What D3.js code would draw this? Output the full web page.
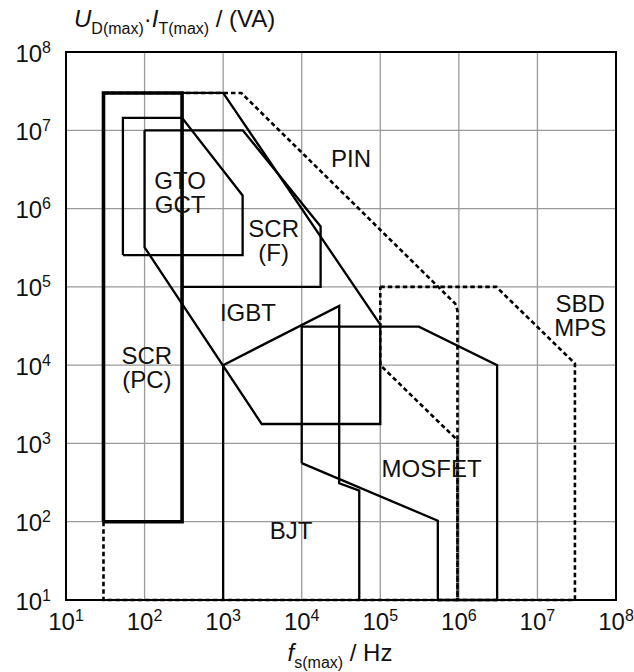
<!DOCTYPE html>
<html>
<head>
<meta charset="utf-8">
<script src="https://cdn.jsdelivr.net/npm/d3@7"></script>
<style>
  body { margin: 0; background: #fff; }
  svg { display: block; font-family: "Liberation Sans", Arial, sans-serif; }
  .grid line { stroke: #9a9a9a; stroke-width: 1.3; }
  .region { fill: none; stroke: #000; stroke-linejoin: miter; }
  .label { font-size: 24px; fill: #111; text-anchor: middle; }
  .tick { font-size: 24px; fill: #111; }
</style>
</head>
<body>
<div id="chart"></div>
<script>
// decade ticks on both axes
const xTicks = [1e1, 1e2, 1e3, 1e4, 1e5, 1e6, 1e7, 1e8];
const yTicks = [1e1, 1e2, 1e3, 1e4, 1e5, 1e6, 1e7, 1e8];

// region outlines: [f_s(max) in Hz, U*I in VA]
const scrPC = [[30, 100], [30, 3e7], [300, 3e7], [300, 100], [30, 100]];
const gtoGct = [[53, 2.55e5], [53, 1.44e7], [300, 1.44e7], [1.77e3, 1.47e6], [1.77e3, 2.55e5], [53, 2.55e5]];
const scrF = [[300, 1e5], [1.74e4, 1e5], [1.74e4, 5.9e5], [1.78e3, 1e7], [100, 1e7]];
const igbt = [[300, 3e7], [1e3, 3e7], [1e5, 3.3e4], [1e5, 1.77e3], [3.1e3, 1.77e3], [100, 3.2e5], [100, 1e7]];
const bjt = [[1e3, 10], [1e3, 1e4], [3e4, 5.7e4], [3e4, 3.1e2], [5.4e4, 2.5e2], [5.4e4, 10]];
const mosfet = [[1e4, 5.6e2], [1e4, 3.1e4], [3.1e5, 3.1e4], [3.07e6, 1e4], [3.07e6, 10], [5.4e5, 10], [5.4e5, 1.03e2], [1e4, 5.6e2]];
const pin = [[30, 3e7], [1.7e3, 3e7], [9e5, 6.1e4], [9.6e5, 5e4], [9.6e5, 10], [30, 10], [30, 3e7]];
const sbdMps = [[1e5, 1e5], [3e6, 1e5], [3e7, 1.05e4], [3e7, 10], [9.6e5, 10], [9.6e5, 1.1e3], [1e5, 1e4], [1e5, 1e5]];

// region names, anchored (first baseline) in data units
const labelText = [["PIN"], ["GTO", "GCT"], ["SCR", "(F)"], ["IGBT"], ["SCR", "(PC)"], ["MOSFET"], ["BJT"], ["SBD", "MPS"]];
const labelAt = [[4.24e4, 3.37e6], [283, 1.76e6], [4.4e3, 4.37e5], [2.07e3, 3.69e4], [107, 1.03e4], [4.5e5, 376], [7.3e3, 59.6], [3.5e7, 4.8e4]];

const width = 634;
const height = 672;

const svg = d3.select("#chart").append("svg")
  .attr("width", width)
  .attr("height", height);

const x = d3.scaleLog().domain([1e1, 1e8]).range([66, 616]);
const y = d3.scaleLog().domain([1e1, 1e8]).range([600, 52]);

// grid
const grid = svg.append("g").attr("class", "grid");
grid.selectAll(".gx")
  .data(xTicks.slice(1, -1))
  .enter()
  .append("line")
  .attr("x1", d => x(d)).attr("x2", d => x(d))
  .attr("y1", y(1e1)).attr("y2", y(1e8));
grid.selectAll(".gy")
  .data(yTicks.slice(1, -1))
  .enter()
  .append("line")
  .attr("y1", d => y(d)).attr("y2", d => y(d))
  .attr("x1", x(1e1)).attr("x2", x(1e8));

const line = d3.line().x(d => x(d[0])).y(d => y(d[1]));

// dashed diode regions first, solid ones over them
svg.selectAll(".dashed")
  .data([pin, sbdMps])
  .enter()
  .append("path")
  .attr("class", "region")
  .attr("d", line)
  .attr("stroke-width", 2.6)
  .attr("stroke-dasharray", "4.5,3");

svg.selectAll(".solid")
  .data([gtoGct, scrF, igbt, bjt, mosfet])
  .enter()
  .append("path")
  .attr("class", "region")
  .attr("d", line)
  .attr("stroke-width", 2.3);

svg.append("path")
  .attr("class", "region")
  .attr("d", line(scrPC))
  .attr("stroke-width", 3.6);

// frame
svg.append("rect")
  .attr("x", x(1e1)).attr("y", y(1e8))
  .attr("width", x(1e8) - x(1e1))
  .attr("height", y(1e1) - y(1e8))
  .attr("fill", "none")
  .attr("stroke", "#000")
  .attr("stroke-width", 2);

// tick labels as 10^n
const xt = svg.append("g").selectAll("text")
  .data(xTicks)
  .enter()
  .append("text")
  .attr("class", "tick")
  .attr("text-anchor", "middle")
  .attr("x", d => x(d))
  .attr("y", 630);
xt.append("tspan").text("10");
xt.append("tspan")
  .attr("dy", -9)
  .attr("font-size", 16)
  .text(d => Math.round(Math.log10(d)));

const yt = svg.append("g").selectAll("text")
  .data(yTicks)
  .enter()
  .append("text")
  .attr("class", "tick")
  .attr("text-anchor", "end")
  .attr("x", 51)
  .attr("y", d => y(d) + 9.5);
yt.append("tspan").text("10");
yt.append("tspan")
  .attr("dy", -9)
  .attr("font-size", 16)
  .text(d => Math.round(Math.log10(d)));

// axis titles
const yTitle = svg.append("text")
  .attr("x", 74)
  .attr("y", 27)
  .attr("font-size", 24)
  .attr("fill", "#111");
yTitle.append("tspan").attr("font-style", "italic").text("U");
yTitle.append("tspan").attr("font-size", 16).attr("dy", 7).text("D(max)");
yTitle.append("tspan").attr("dy", -7).text("·");
yTitle.append("tspan").attr("font-style", "italic").text("I");
yTitle.append("tspan").attr("font-size", 16).attr("dy", 7).text("T(max)");
yTitle.append("tspan").attr("dy", -7).text(" / (VA)");

const xTitle = svg.append("text")
  .attr("x", 340)
  .attr("y", 661)
  .attr("text-anchor", "middle")
  .attr("font-size", 24)
  .attr("fill", "#111");
xTitle.append("tspan").attr("font-style", "italic").text("f");
xTitle.append("tspan").attr("font-size", 16).attr("dy", 7).text("s(max)");
xTitle.append("tspan").attr("dy", -7).text(" / Hz");

// region names
const labels = svg.append("g").selectAll("text")
  .data(labelText)
  .enter()
  .append("text")
  .attr("class", "label")
  .attr("x", (d, i) => x(labelAt[i][0]))
  .attr("y", (d, i) => y(labelAt[i][1]));
labels.selectAll("tspan")
  .data((d, i) => d.map(t => ({ t, i })))
  .enter()
  .append("tspan")
  .attr("x", d => x(labelAt[d.i][0]))
  .attr("dy", (d, j) => (j === 0 ? 0 : 24))
  .text(d => d.t);
</script>
</body>
</html>
